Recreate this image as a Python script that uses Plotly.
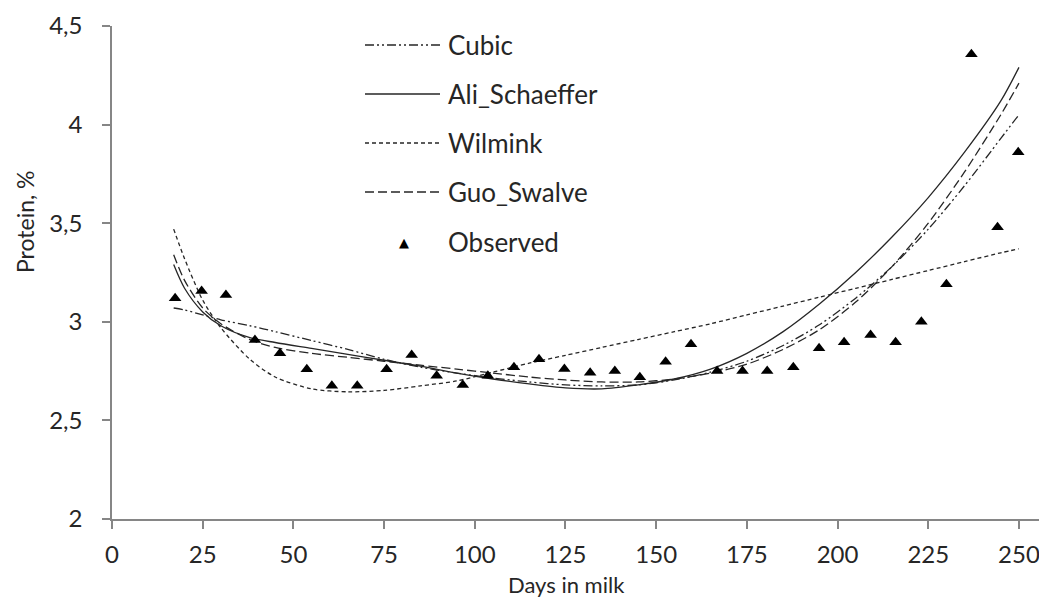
import plotly.graph_objects as go

# Observed test-day protein %
obs_days = [17.4, 24.7, 31.4, 39.4, 46.3, 53.7, 60.6, 67.6, 75.7, 82.6, 89.5, 96.7,
            103.6, 110.8, 117.7, 124.7, 131.8, 138.6, 145.5, 152.6, 159.6, 166.8,
            173.8, 180.6, 187.8, 194.9, 201.8, 209.1, 216.0, 223.1, 230.0, 236.9,
            244.1, 249.8]
obs_protein = [3.12, 3.156, 3.136, 2.908, 2.84, 2.76, 2.676, 2.676, 2.76, 2.832, 2.727, 2.68,
               2.727, 2.769, 2.81, 2.761, 2.742, 2.751, 2.719, 2.798, 2.886, 2.751,
               2.751, 2.751, 2.769, 2.866, 2.896, 2.933, 2.896, 3.0, 3.191, 4.357,
               3.479, 3.86]

# Model curves
curve_days = [17, 20, 25, 30, 38, 45, 55, 65, 75, 85, 95, 105, 115, 125, 135, 145,
              155, 165, 175, 185, 195, 205, 215, 225, 235, 245, 250]
cubic = [3.07, 3.06, 3.035, 3.01, 2.98, 2.95, 2.905, 2.86, 2.81, 2.77, 2.74, 2.715,
         2.695, 2.68, 2.675, 2.68, 2.705, 2.745, 2.80, 2.88, 2.985, 3.12, 3.28, 3.47,
         3.69, 3.93, 4.05]
ali_schaeffer = [3.29, 3.17, 3.05, 2.98, 2.92, 2.895, 2.865, 2.835, 2.805, 2.775, 2.74,
                 2.71, 2.685, 2.665, 2.66, 2.68, 2.71, 2.76, 2.84, 2.95, 3.09, 3.25,
                 3.43, 3.63, 3.86, 4.12, 4.29]
wilmink = [3.47, 3.32, 3.11, 2.97, 2.81, 2.72, 2.66, 2.645, 2.652, 2.675, 2.70, 2.745,
           2.79, 2.83, 2.87, 2.91, 2.95, 2.99, 3.035, 3.08, 3.125, 3.17, 3.215, 3.26,
           3.305, 3.35, 3.37]
guo_swalve = [3.34, 3.21, 3.07, 2.99, 2.91, 2.87, 2.84, 2.82, 2.80, 2.78, 2.76, 2.74,
              2.72, 2.705, 2.695, 2.695, 2.71, 2.74, 2.785, 2.86, 2.96, 3.10, 3.28,
              3.50, 3.76, 4.05, 4.21]

x_ticks = [0, 25, 50, 75, 100, 125, 150, 175, 200, 225, 250]
y_ticks = [2, 2.5, 3, 3.5, 4, 4.5]
y_tick_text = ["2", "2,5", "3", "3,5", "4", "4,5"]

FONT = "Lato"
TEXT_COLOR = "#262626"
LINE_COLOR = "#262626"
AXIS_COLOR = "#868686"

series = [
    ("Cubic", cubic, "9px,3px,2px,3px,2px,3px"),
    ("Ali_Schaeffer", ali_schaeffer, "solid"),
    ("Wilmink", wilmink, "4px,3px"),
    ("Guo_Swalve", guo_swalve, "9px,4px"),
]

fig = go.Figure()
for name, vals, dash in series:
    fig.add_trace(go.Scatter(
        x=curve_days, y=vals, mode="lines", name=name, showlegend=False,
        line=dict(color=LINE_COLOR, width=1.3, dash=dash, shape="spline", smoothing=0.8),
    ))
fig.add_trace(go.Scatter(
    x=obs_days, y=obs_protein, mode="markers", name="Observed", showlegend=False,
    marker=dict(symbol="triangle-up", size=11, color="black"),
))

# The page has an 8px body margin, so the figure is sized to fit inside it.
PAGE_OFF = 8
W, H = 1047 - PAGE_OFF, 610 - PAGE_OFF
L, R, T, B = 104, 7, 18, 91
pw, ph = W - L - R, H - T - B


def px_x(px):
    return (px - PAGE_OFF - L) / pw


def px_y(py):
    return (H - B - (py - PAGE_OFF)) / ph


legend_rows = [45, 94, 143, 192, 242]
shapes = []
annotations = []
for (name, _, dash), row in zip(series, legend_rows):
    shapes.append(dict(type="line", xref="paper", yref="paper",
                       x0=px_x(365), x1=px_x(440), y0=px_y(row), y1=px_y(row),
                       line=dict(color=LINE_COLOR, width=1.3, dash=dash)))
    annotations.append(dict(text=name, xref="paper", yref="paper", x=px_x(446), y=px_y(row),
                            xanchor="left", yanchor="middle", showarrow=False,
                            font=dict(family=FONT, size=26, color=TEXT_COLOR)))
annotations.append(dict(text="▲", xref="paper", yref="paper", x=px_x(404), y=px_y(legend_rows[4]),
                        xanchor="center", yanchor="middle", showarrow=False,
                        font=dict(family="DejaVu Sans", size=13, color="black")))
annotations.append(dict(text="Observed", xref="paper", yref="paper", x=px_x(446),
                        y=px_y(legend_rows[4]), xanchor="left", yanchor="middle",
                        showarrow=False, font=dict(family=FONT, size=26, color=TEXT_COLOR)))
# Axis titles
annotations.append(dict(text="Days in milk", xref="paper", yref="paper", x=px_x(566), y=px_y(584),
                        xanchor="center", yanchor="middle", showarrow=False,
                        font=dict(family=FONT, size=22, color=TEXT_COLOR)))
annotations.append(dict(text="Protein, %", xref="paper", yref="paper", x=px_x(25), y=px_y(222),
                        xanchor="center", yanchor="middle", showarrow=False, textangle=-90,
                        font=dict(family=FONT, size=23, color=TEXT_COLOR)))

axis_common = dict(
    showgrid=False, zeroline=False, showline=True, linecolor=AXIS_COLOR, linewidth=1.5,
    ticks="outside", ticklen=8, tickcolor=AXIS_COLOR, tickwidth=1.5, automargin=False,
    tickfont=dict(family=FONT, size=24, color=TEXT_COLOR),
)
fig.update_xaxes(range=[0, 255.8], tickvals=x_ticks, ticktext=[str(v) for v in x_ticks],
                 ticklabelstandoff=5, **axis_common)
fig.update_yaxes(range=[2, 4.5], tickvals=y_ticks, ticktext=y_tick_text,
                 ticklabelstandoff=15, **axis_common)
fig.update_layout(
    width=W, height=H,
    margin=dict(l=L, r=R, t=T, b=B),
    plot_bgcolor="white", paper_bgcolor="white",
    font=dict(family=FONT, color=TEXT_COLOR),
    showlegend=False,
    shapes=shapes, annotations=annotations,
)
fig.write_html("out.html")
